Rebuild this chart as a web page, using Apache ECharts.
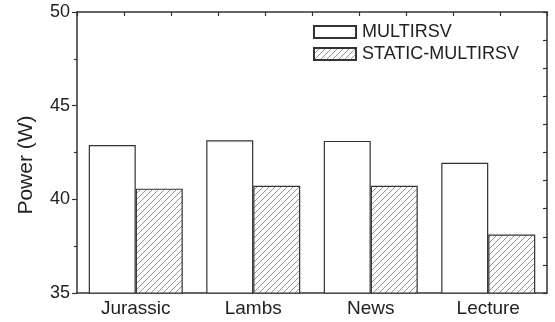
<!DOCTYPE html>
<html><head><meta charset="utf-8">
<script src="https://cdn.jsdelivr.net/npm/echarts@6/dist/echarts.min.js"></script>
<style>html,body{margin:0;padding:0;background:#fff}#c{width:555px;height:322px}</style>
</head><body><div id="c"></div>
<script>
const categories = ['Jurassic', 'Lambs', 'News', 'Lecture'];
const multirsv = [42.9, 43.15, 43.12, 41.95];
const staticMultirsv = [40.57, 40.72, 40.72, 38.12];
const seriesNames = ['MULTIRSV', 'STATIC-MULTIRSV'];
const yTicks = { min: 35, max: 50, interval: 5 };

const font = '"Liberation Sans", Arial, sans-serif';
const ink = '#222';

function hatch() {
  const c = document.createElement('canvas');
  const s = 6;
  c.width = s; c.height = s;
  const g = c.getContext('2d');
  g.fillStyle = '#fff'; g.fillRect(0, 0, s, s);
  g.strokeStyle = '#777'; g.lineWidth = 0.8;
  g.beginPath();
  g.moveTo(-1, s + 1); g.lineTo(s + 1, -1);
  g.moveTo(-1, 1); g.lineTo(1, -1);
  g.moveTo(s - 1, s + 1); g.lineTo(s + 1, s - 1);
  g.stroke();
  return c;
}

const chart = echarts.init(document.getElementById('c'), null, { renderer: 'canvas' });
const grid = { left: 77, right: 8, top: 12, bottom: 29 };
chart.setOption({
  animation: false,
  backgroundColor: '#fff',
  grid: grid,
  legend: {
    orient: 'vertical', left: 308, top: 18,
    itemWidth: 42, itemHeight: 12, itemGap: 4,
    icon: 'rect',
    textStyle: { fontFamily: font, fontSize: 18, lineHeight: 18, color: ink, padding: [0, 0, 0, 1] },
    data: seriesNames
  },
  xAxis: [
    { type: 'category', data: categories, position: 'bottom',
      axisLine: { lineStyle: { color: '#333', width: 1.5 } },
      axisTick: { alignWithLabel: true, length: 5, lineStyle: { color: '#333', width: 1.2 } },
      axisLabel: { fontFamily: font, fontSize: 19, color: ink, margin: 6 } },
    { type: 'category', data: categories, position: 'bottom',
      axisLine: { show: false },
      axisTick: { alignWithLabel: false, length: 3, lineStyle: { color: '#333', width: 1.2 } },
      axisLabel: { show: false } },
    { type: 'value', position: 'top', min: 0, max: 10, interval: 1,
      axisLine: { show: true, lineStyle: { color: '#333', width: 1.5 } },
      axisTick: { show: true, inside: true, length: 4, lineStyle: { color: '#333', width: 1.2 } },
      axisLabel: { show: false }, splitLine: { show: false } }
  ],
  yAxis: [
    { type: 'value', position: 'left', min: yTicks.min, max: yTicks.max, interval: yTicks.interval,
      axisLine: { show: true, lineStyle: { color: '#333', width: 1.5 } },
      axisTick: { show: true, length: 5, lineStyle: { color: '#333', width: 1.2 } },
      minorTick: { show: true, splitNumber: 2, length: 3, lineStyle: { color: '#333', width: 1.2 } },
      axisLabel: { fontFamily: font, fontSize: 18, color: ink, margin: 7 },
      splitLine: { show: false } },
    { type: 'value', position: 'right', min: 0, max: 10, interval: 1,
      axisLine: { show: true, lineStyle: { color: '#333', width: 1.5 } },
      axisTick: { show: true, inside: true, length: 4, lineStyle: { color: '#333', width: 1.2 } },
      axisLabel: { show: false }, splitLine: { show: false } }
  ],
  graphic: [{
    type: 'text', x: 26, y: 165, rotation: Math.PI / 2,
    style: { text: 'Power (W)', font: '21px ' + font, fill: ink, textAlign: 'center', textVerticalAlign: 'middle' }
  }],
  series: [
    { name: seriesNames[0], type: 'bar', data: multirsv, xAxisIndex: 0, yAxisIndex: 0,
      barGap: '0%', barCategoryGap: '20%',
      itemStyle: { color: '#fff', borderColor: '#333', borderWidth: 1.2 } },
    { name: seriesNames[1], type: 'bar', data: staticMultirsv, xAxisIndex: 0, yAxisIndex: 0,
      barGap: '0%', barCategoryGap: '20%',
      itemStyle: { color: { image: hatch(), repeat: 'repeat' }, borderColor: '#333', borderWidth: 1.2 } }
  ]
});
</script></body></html>
